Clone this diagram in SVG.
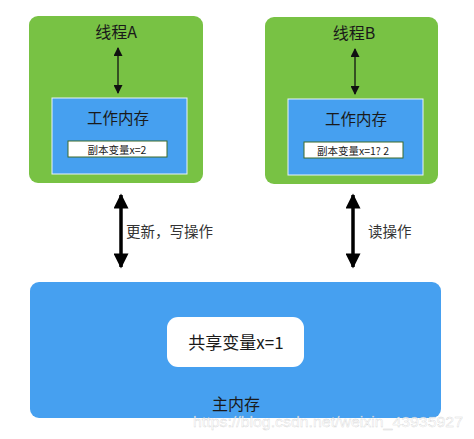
<svg xmlns="http://www.w3.org/2000/svg" width="474" height="439" viewBox="0 0 474 439">
<defs>
<style>
.thread{fill:#78c244;}
.work{fill:#46a0f0;stroke:#e8f2fb;stroke-width:1;}
.copy{fill:#ffffff;stroke:#3d6b2a;stroke-width:1;}
.t{font-family:"Noto Sans CJK SC","Liberation Sans",sans-serif;fill:#1a1a1a;text-anchor:middle;}
.lbl{font-family:"Noto Sans CJK SC","Liberation Sans",sans-serif;fill:#333333;}
.thin{stroke:#111;stroke-width:1.3;fill:none;}
.thick{stroke:#000;stroke-width:3.5;fill:none;}
</style>
<marker id="ah" viewBox="0 0 10 10" refX="9" refY="5" markerWidth="10" markerHeight="9" markerUnits="userSpaceOnUse" orient="auto-start-reverse"><path d="M0,0 L10,5 L0,10 z" fill="#111"/></marker>
<marker id="ahb" viewBox="0 0 10 10" refX="9" refY="5" markerWidth="16" markerHeight="15" markerUnits="userSpaceOnUse" orient="auto-start-reverse"><path d="M0,0 L10,5 L0,10 z" fill="#000"/></marker>
</defs>
<rect width="474" height="439" fill="#ffffff"/>
<g id="threadA">
<rect class="thread" x="29" y="16" width="174" height="167" rx="9"/>
<text class="t" x="116" y="38" font-size="16">线程A</text>
<rect class="work" x="52" y="98" width="135" height="76"/>
<text class="t" x="118" y="124" font-size="15.5">工作内存</text>
<rect class="copy" x="68" y="141" width="99" height="16"/>
<text class="t" x="117" y="153.5" font-size="10.5">副本变量x=2</text>
</g>
<g id="threadB">
<rect class="thread" x="265" y="17" width="173" height="167" rx="9"/>
<text class="t" x="354" y="39" font-size="16">线程B</text>
<rect class="work" x="288" y="99" width="135" height="76"/>
<text class="t" x="356" y="125" font-size="15.5">工作内存</text>
<rect class="copy" x="304" y="142" width="99" height="16"/>
<text class="t" x="353" y="154.5" font-size="10.5">副本变量x=1? 2</text>
</g>
<g id="mainMemory">
<rect x="30" y="282" width="411" height="136" rx="9" fill="#46a0f0"/>
<rect x="167" y="317" width="137" height="50" rx="11" fill="#ffffff"/>
<text class="t" x="236" y="349" font-size="17">共享变量x=1</text>
<text class="t" x="236" y="410" font-size="16">主内存</text>
</g>
<g id="connectors">
<line class="thin" x1="118" y1="48" x2="118" y2="93" marker-start="url(#ah)" marker-end="url(#ah)"/>
<line class="thin" x1="355" y1="49" x2="355" y2="94" marker-start="url(#ah)" marker-end="url(#ah)"/>
<line class="thick" x1="121" y1="195" x2="121" y2="267" marker-start="url(#ahb)" marker-end="url(#ahb)"/>
<line class="thick" x1="353" y1="195" x2="353" y2="267" marker-start="url(#ahb)" marker-end="url(#ahb)"/>
<text class="lbl" x="126" y="237" font-size="14.5">更新，写操作</text>
<text class="lbl" x="368" y="237" font-size="14.5">读操作</text>
</g>
<text x="193" y="427" font-family="Liberation Sans,Arial,sans-serif" font-size="15" fill="#ffffff" fill-opacity="0.75" stroke="#bbbbbb" stroke-opacity="0.6" stroke-width="0.4" textLength="270" lengthAdjust="spacingAndGlyphs">https://blog.csdn.net/weixin_43935927</text>
</svg>
